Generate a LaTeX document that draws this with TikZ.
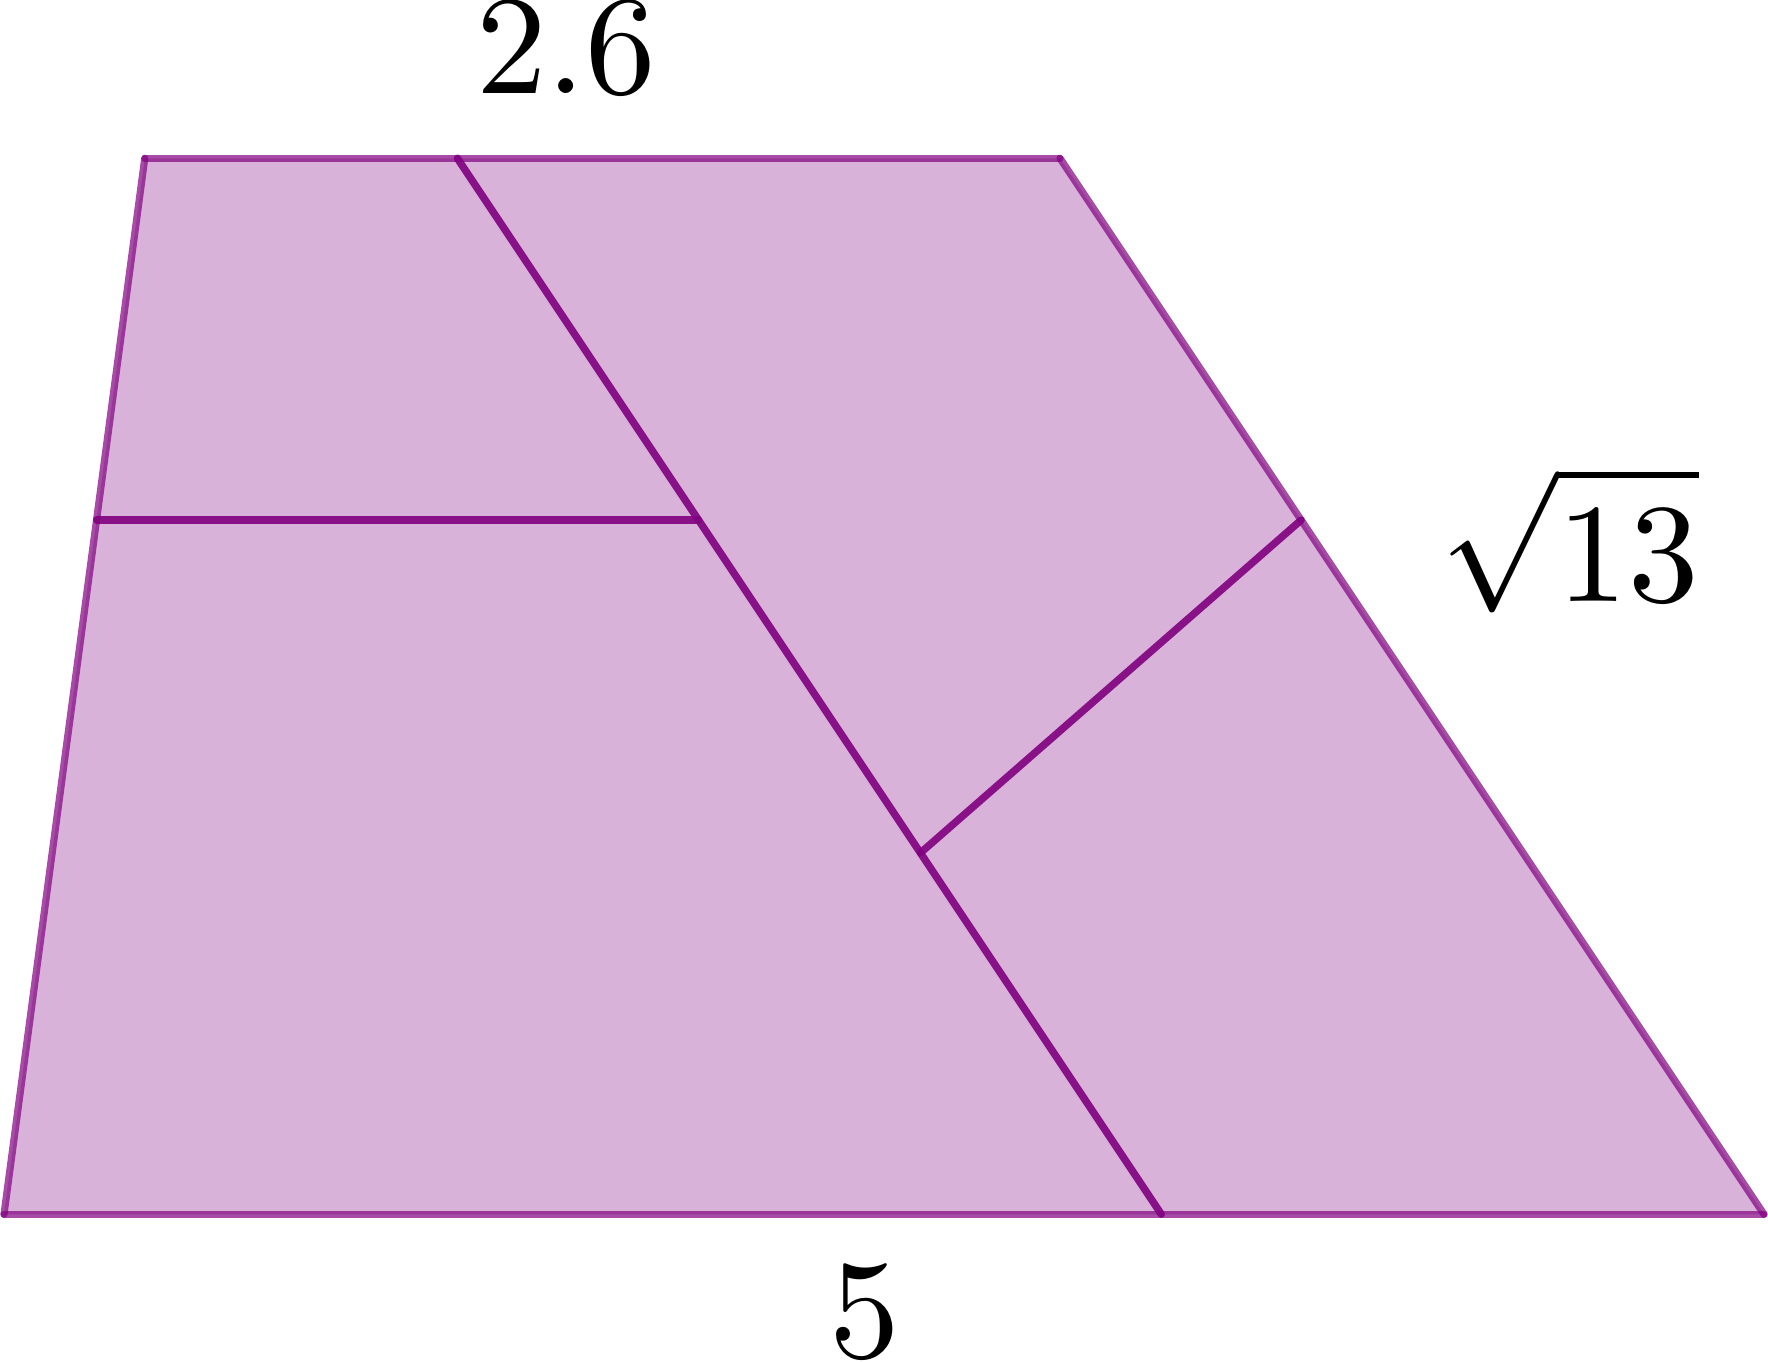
\documentclass[tikz,border=0pt]{standalone}
\usepackage{xcolor}
\definecolor{pp}{RGB}{128,0,128}
\tikzset{
  outeredge/.style={draw=pp, draw opacity=0.7, line width=0.58pt, line cap=round},
  inneredge/.style={draw=pp, draw opacity=0.9, line width=0.6pt, line cap=round},
  lbl/.style={inner sep=0pt, anchor=base, font=\fontsize{10}{12}\selectfont, scale=1.14}
}
\begin{document}
\begin{tikzpicture}
\useasboundingbox (-0.01136,-0.4196) rectangle (5.0114,3.4497);
\coordinate (A) at (0,0);
\coordinate (B) at (5,0);
\coordinate (C) at (3,3);
\coordinate (D) at (0.4,3);
\coordinate (P) at (1.288,3);
\coordinate (Q) at (3.288,0);
\coordinate (L) at (0.2632,1.972);
\coordinate (M) at (1.973,1.972);
\coordinate (R) at (3.685,1.972);
\coordinate (S) at (2.604,1.027);
\fill[pp, fill opacity=0.3] (A) -- (B) -- (C) -- (D) -- cycle;
\draw[outeredge] (A) -- (B);
\draw[outeredge] (B) -- (C);
\draw[outeredge] (C) -- (D);
\draw[outeredge] (D) -- (A);
\draw[inneredge] (P) -- (Q);
\draw[inneredge] (L) -- (M);
\draw[inneredge] (R) -- (S);
\node[lbl] (top) at (1.597,3.183) {$2.6$};
\node[lbl] (bot) at (2.446,-0.408) {$5$};
\node[lbl] (side) at (4.447,1.742) {$\displaystyle\sqrt{13}$};
\end{tikzpicture}
\end{document}
